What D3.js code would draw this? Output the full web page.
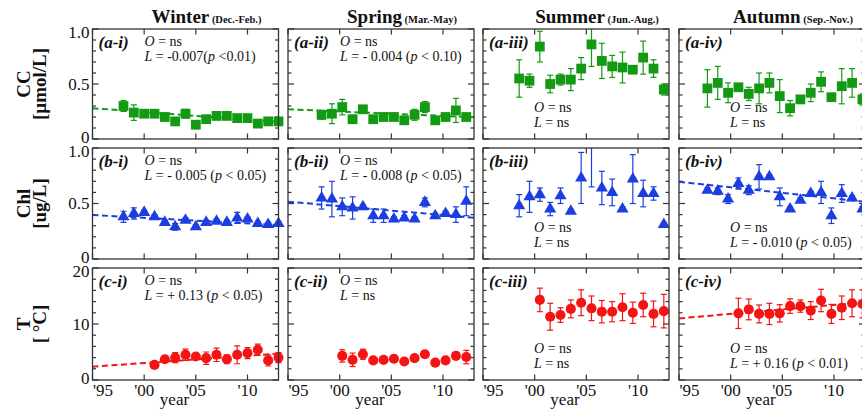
<!DOCTYPE html>
<html lang="en">
<head>
<meta charset="UTF-8">
<title>Seasonal trends</title>
<script src="https://cdn.jsdelivr.net/npm/d3@7"></script>
<style>
  body { margin: 0; background: #fff; }
  svg text { font-family: "Liberation Serif", "DejaVu Serif", serif; fill: #111; }
  .frame { fill: none; stroke: #333; stroke-width: 1.3px; }
  .tick { stroke: #333; stroke-width: 1.2px; }
  .trend { fill: none; stroke-width: 2px; stroke-dasharray: 6 3.5; }
  .err { stroke-width: 1.2px; fill: none; }
</style>
</head>
<body>
<svg width="862" height="412"></svg>
<script>
// ---- data ----
const seasons = ['Winter', 'Spring', 'Summer', 'Autumn'];
const seasonMonths = ['(Dec.-Feb.)', '(Mar.-May)', '(Jun.-Aug.)', '(Sep.-Nov.)'];
const seasonShift = [0, 0.25, 0.5, 0.75];   // position of the season inside a year
const romans = ['i', 'ii', 'iii', 'iv'];
const xTicks = [1995, 2000, 2005, 2010];
const xTickLabels = ["'95", "'00", "'05", "'10"];

// CC [umol/L]
const ccStart = [1998, 1998, 1998, 1997];
const ccWinter    = [0.30, 0.24, 0.23, 0.23, 0.20, 0.16, 0.23, 0.13, 0.18, 0.21, 0.21, 0.19, 0.19, 0.14, 0.16, 0.16];
const ccWinterErr = [0.05, 0.07, 0.02, 0.02, 0.03, 0.02, 0.04, 0.02, 0.02, 0.02, 0.02, 0.02, 0.02, 0.02, 0.02, 0.02];
const ccSpring    = [0.22, 0.23, 0.29, 0.18, 0.27, 0.18, 0.20, 0.20, 0.17, 0.22, 0.29, 0.17, 0.20, 0.26, 0.20];
const ccSpringErr = [0.04, 0.09, 0.07, 0.03, 0.02, 0.02, 0.02, 0.02, 0.02, 0.05, 0.05, 0.02, 0.02, 0.11, 0.02];
const ccSummer    = [0.55, 0.53, 0.84, 0.50, 0.54, 0.54, 0.64, 0.86, 0.71, 0.66, 0.65, 0.63, 0.74, 0.64, 0.45];
const ccSummerErr = [0.17, 0.06, 0.14, 0.08, 0.05, 0.10, 0.10, 0.20, 0.16, 0.10, 0.14, 0.02, 0.15, 0.08, 0.05];
const ccAutumn    = [0.46, 0.51, 0.42, 0.47, 0.41, 0.46, 0.51, 0.39, 0.28, 0.36, 0.42, 0.52, 0.38, 0.48, 0.51, 0.36];
const ccAutumnErr = [0.17, 0.15, 0.09, 0.03, 0.06, 0.14, 0.09, 0.15, 0.07, 0.03, 0.08, 0.09, 0.03, 0.16, 0.13, 0.05];

// Chl [ug/L]
const chlStart = [1998, 1998, 1998, 1997];
const chlWinter    = [0.38, 0.41, 0.42, 0.38, 0.33, 0.29, 0.35, 0.29, 0.33, 0.34, 0.33, 0.37, 0.36, 0.32, 0.31, 0.32];
const chlWinterErr = [0.05, 0.05, 0.02, 0.02, 0.02, 0.03, 0.02, 0.02, 0.02, 0.02, 0.02, 0.05, 0.02, 0.02, 0.02, 0.02];
const chlSpring    = [0.55, 0.54, 0.47, 0.46, 0.47, 0.39, 0.39, 0.36, 0.37, 0.36, 0.51, 0.39, 0.41, 0.40, 0.52];
const chlSpringErr = [0.10, 0.16, 0.08, 0.10, 0.02, 0.06, 0.06, 0.02, 0.02, 0.02, 0.04, 0.02, 0.02, 0.07, 0.13];
const chlSummer    = [0.48, 0.56, 0.58, 0.45, 0.57, 0.43, 0.73, 1.10, 0.64, 0.60, 0.45, 0.72, 0.59, 0.59, 0.31];
const chlSummerErr = [0.10, 0.14, 0.06, 0.06, 0.07, 0.02, 0.23, 0.45, 0.15, 0.12, 0.02, 0.22, 0.12, 0.06, 0.02];
const chlAutumn    = [0.62, 0.61, 0.54, 0.68, 0.62, 0.74, 0.74, 0.56, 0.45, 0.53, 0.59, 0.60, 0.39, 0.59, 0.55, 0.45];
const chlAutumnErr = [0.02, 0.03, 0.04, 0.05, 0.04, 0.11, 0.02, 0.08, 0.02, 0.02, 0.02, 0.10, 0.07, 0.08, 0.02, 0.02];

// T [degC]
const tStart = [2001, 2000, 2000, 2000];
const tWinter    = [2.7, 3.7, 4.0, 4.5, 4.2, 3.9, 4.5, 3.7, 4.5, 4.8, 5.4, 3.5, 4.0];
const tWinterErr = [0.3, 0.4, 0.9, 1.0, 0.4, 1.1, 1.2, 0.8, 1.6, 1.0, 1.0, 1.0, 0.9];
const tSpring    = [4.3, 3.6, 4.6, 3.5, 3.6, 3.8, 3.3, 3.9, 4.6, 3.1, 3.5, 4.3, 4.1];
const tSpringErr = [1.1, 1.2, 0.9, 0.4, 0.4, 0.4, 0.4, 0.4, 0.4, 0.4, 0.4, 0.4, 1.2];
const tSummer    = [14.3, 11.3, 11.6, 12.7, 13.8, 12.8, 12.2, 12.2, 13.0, 12.0, 13.4, 11.8, 12.3];
const tSummerErr = [2.1, 2.4, 1.3, 1.6, 2.3, 2.2, 2.0, 1.8, 2.4, 1.9, 2.1, 2.3, 3.0];
const tAutumn    = [11.9, 12.6, 11.8, 11.8, 11.9, 13.2, 13.2, 12.4, 14.2, 11.8, 12.9, 13.7, 13.6];
const tAutumnErr = [2.7, 1.85, 1.6, 1.9, 1.55, 1.3, 1.1, 1.6, 2.0, 1.7, 2.1, 2.4, 2.5];

// fitted trend lines: [value at 1995, slope per year], null = no line
const ccTrend  = [[0.28, -0.007], [0.27, -0.004], null, null];
const chlTrend = [[0.396, -0.005], [0.516, -0.008], null, [0.696, -0.010]];
const tTrend   = [[2.38, 0.13], null, null, [11.0, 0.16]];

// annotation texts
const ccNotes  = ['L = -0.007(p <0.01)', 'L = - 0.004 (p < 0.10)', 'L = ns', 'L = ns'];
const chlNotes = ['L = - 0.005 (p < 0.05)', 'L = - 0.008 (p < 0.05)', 'L = ns', 'L = - 0.010 (p < 0.05)'];
const tNotes   = ['L = + 0.13 (p < 0.05)', 'L = ns', 'L = ns', 'L = + 0.16 (p < 0.01)'];

// ---- layout ----
const svg = d3.select('svg');
const colLeft = [92.5, 288, 483, 679];
const panelW = 186;
const rowTop = [29, 148, 268];
const rowBottom = [139, 259, 380];
const xDomain = [1995, 2013];

const rows = [
  { key: 'a', name: ['CC', '[\u00b5mol/L]'], domain: [0, 1], major: [0, 0.5, 1], minorStep: 0.1,
    labels: ['0', '0.5', '1.0'], color: '#139a13', symbol: d3.symbolSquare, size: 96,
    start: ccStart, vals: [ccWinter, ccSpring, ccSummer, ccAutumn],
    errs: [ccWinterErr, ccSpringErr, ccSummerErr, ccAutumnErr], trend: ccTrend, notes: ccNotes,
    noteBottom: [false, false, true, true] },
  { key: 'b', name: ['Chl', '[ug/L]'], domain: [0, 1], major: [0, 0.5, 1], minorStep: 0.1,
    labels: ['0', '0.5', '1.0'], color: '#1c3ee0', symbol: d3.symbolTriangle, size: 64,
    start: chlStart, vals: [chlWinter, chlSpring, chlSummer, chlAutumn],
    errs: [chlWinterErr, chlSpringErr, chlSummerErr, chlAutumnErr], trend: chlTrend, notes: chlNotes,
    noteBottom: [false, false, true, true] },
  { key: 'c', name: ['T', '[ \u00b0C]'], domain: [0, 20], major: [0, 10, 20], minorStep: 2,
    labels: ['0', '10', '20'], color: '#f41414', symbol: d3.symbolCircle, size: 80,
    start: tStart, vals: [tWinter, tSpring, tSummer, tAutumn],
    errs: [tWinterErr, tSpringErr, tSummerErr, tAutumnErr], trend: tTrend, notes: tNotes,
    noteBottom: [false, false, true, true] }
];

// writes a string with O, L and p in italics
function richText(sel, str) {
  str.split(/([OLp])/).filter(s => s.length).forEach(s => {
    sel.append('tspan').attr('font-style', /^[OLp]$/.test(s) ? 'italic' : null).text(s);
  });
}

const defs = svg.append('defs');

rows.forEach((row, ri) => {
  const top = rowTop[ri], bottom = rowBottom[ri];
  const y = d3.scaleLinear().domain(row.domain).range([bottom, top]);
  const minor = d3.range(row.domain[0], row.domain[1] + row.minorStep / 2, row.minorStep);

  // row title
  const tl = svg.append('text')
    .attr('transform', `translate(0,${(top + bottom) / 2}) rotate(-90)`)
    .attr('text-anchor', 'middle').attr('font-weight', 'bold').attr('font-size', 19);
  tl.append('tspan').attr('x', 0).attr('y', 30).text(row.name[0]);
  tl.append('tspan').attr('x', 0).attr('y', 46).text(row.name[1]);

  seasons.forEach((season, ci) => {
    const left = colLeft[ci], right = left + panelW;
    const x = d3.scaleLinear().domain(xDomain).range([left, right]);
    const g = svg.append('g');
    const clipId = `clip-${ri}-${ci}`;
    defs.append('clipPath').attr('id', clipId).append('rect')
      .attr('x', left - 6).attr('y', top).attr('width', panelW + 12).attr('height', bottom - top);

    // ticks, inward on all four sides
    minor.forEach(v => {
      const isMajor = row.major.some(m => Math.abs(m - v) < 1e-9);
      const len = isMajor ? 6 : 3.5;
      g.append('line').attr('class', 'tick').attr('x1', left).attr('x2', left + len).attr('y1', y(v)).attr('y2', y(v));
      g.append('line').attr('class', 'tick').attr('x1', right).attr('x2', right - len).attr('y1', y(v)).attr('y2', y(v));
    });
    xTicks.forEach(t => {
      g.append('line').attr('class', 'tick').attr('x1', x(t)).attr('x2', x(t)).attr('y1', bottom).attr('y2', bottom - 5.5);
      g.append('line').attr('class', 'tick').attr('x1', x(t)).attr('x2', x(t)).attr('y1', top).attr('y2', top + 5.5);
    });

    const clipped = g.append('g').attr('clip-path', `url(#${clipId})`);

    // trend line
    const tr = row.trend[ci];
    if (tr) {
      const pts = xDomain.map(yr => [yr, tr[0] + tr[1] * (yr - 1995)]);
      clipped.append('path').attr('class', 'trend').attr('stroke', row.color)
        .attr('d', d3.line().x(d => x(d[0])).y(d => y(d[1]))(pts));
    }

    const data = row.vals[ci].map((v, i) => ({
      t: row.start[ci] + i + seasonShift[ci], v: v, e: row.errs[ci][i]
    }));

    // error bars
    const eb = clipped.selectAll('g.eb').data(data).join('g').attr('class', 'err').attr('stroke', row.color);
    eb.append('line').attr('x1', d => x(d.t)).attr('x2', d => x(d.t))
      .attr('y1', d => y(d.v - d.e)).attr('y2', d => y(d.v + d.e));
    eb.append('line').attr('x1', d => x(d.t) - 3).attr('x2', d => x(d.t) + 3)
      .attr('y1', d => y(d.v - d.e)).attr('y2', d => y(d.v - d.e));
    eb.append('line').attr('x1', d => x(d.t) - 3).attr('x2', d => x(d.t) + 3)
      .attr('y1', d => y(d.v + d.e)).attr('y2', d => y(d.v + d.e));

    // symbols (points outside the y range are not drawn)
    g.selectAll('path.pt').data(data.filter(d => d.v <= row.domain[1])).join('path')
      .attr('class', 'pt').attr('fill', row.color)
      .attr('transform', d => `translate(${x(d.t)},${y(d.v)})`)
      .attr('d', d3.symbol().type(row.symbol).size(row.size));

    g.append('rect').attr('class', 'frame').attr('x', left).attr('y', top)
      .attr('width', panelW).attr('height', bottom - top);

    // panel label
    g.append('text').attr('x', left + 6).attr('y', top + 19)
      .attr('font-weight', 'bold').attr('font-style', 'italic').attr('font-size', 17)
      .text(`(${row.key}-${romans[ci]})`);

    // annotation
    const nx = row.noteBottom[ci] ? left + 51 : left + 52;
    const ny = row.noteBottom[ci] ? bottom - 27 : top + 17;
    const n1 = g.append('text').attr('x', nx).attr('y', ny).attr('font-size', 14);
    richText(n1, 'O = ns');
    const n2 = g.append('text').attr('x', nx).attr('y', ny + 14.5).attr('font-size', 14);
    richText(n2, row.notes[ci]);

    // y tick labels on the first column (end labels nudged inward, as in the figure)
    if (ci === 0) {
      row.major.forEach((m, k) => {
        const nudge = k === 0 ? -1.5 : (k === row.major.length - 1 ? 3.5 : 0);
        g.append('text').attr('x', left - 3).attr('y', y(m) + nudge).attr('dy', '0.35em')
          .attr('text-anchor', 'end').attr('font-size', 17).text(row.labels[k]);
      });
    }
    // x tick labels on the bottom row
    if (ri === rows.length - 1) {
      xTicks.forEach((t, k) => {
        g.append('text').attr('x', k === 0 ? left + 0.5 : x(t)).attr('y', 396)
          .attr('text-anchor', k === 0 ? 'start' : 'middle').attr('font-size', 17).text(xTickLabels[k]);
      });
      g.append('text').attr('x', (left + right) / 2 - 11).attr('y', 405)
        .attr('text-anchor', 'middle').attr('font-size', 17).text('year');
    }
    // season titles on the top row
    if (ri === 0) {
      const st = g.append('text').attr('x', (left + right) / 2 + 21).attr('y', 23)
        .attr('text-anchor', 'middle').attr('font-weight', 'bold');
      st.append('tspan').attr('font-size', 19).text(season);
      st.append('tspan').attr('font-size', 10.5).text(' ' + seasonMonths[ci]);
    }
  });
});
</script>
</body>
</html>
